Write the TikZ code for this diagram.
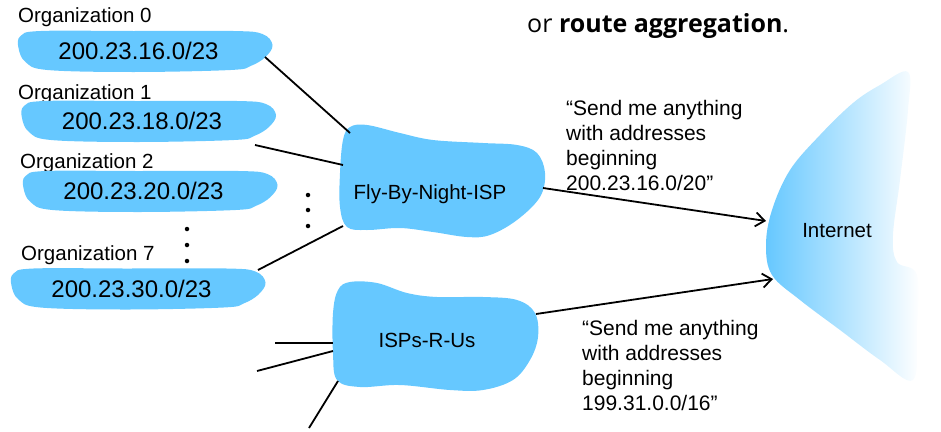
\documentclass[tikz,border=0pt]{standalone}
\usepackage{fontspec}
\setmainfont{Liberation Sans}
\newfontfamily\titlefont{Open Sans}
\usetikzlibrary{arrows.meta}
\definecolor{cloud}{HTML}{66C8FF}
\begin{document}
\begin{tikzpicture}[x=1pt,y=-1pt,
  ip/.style={font=\fontsize{24}{28}\selectfont,inner sep=0pt},
  orglabel/.style={font=\fontsize{20.5}{24}\selectfont,inner sep=0pt,anchor=base west},
  isp/.style={font=\fontsize{20.5}{24}\selectfont,inner sep=0pt,anchor=base},
  quote/.style={font=\fontsize{21}{25}\selectfont,inner sep=0pt,anchor=north west,align=left},
  link/.style={line width=1.8pt},
  adv/.style={line width=1.8pt,-{Straight Barb[length=9pt,width=14pt,line width=1.8pt]}},
  dot/.style={circle,fill=black,inner sep=0pt,minimum size=4.5pt},
  orgblob/.pic={\fill[cloud] plot[smooth cycle,tension=0.6] coordinates {(-118,-15) (-98,-20) (-5,-20) (95,-20) (124,-17) (134,-6) (127,6) (112,15) (92,19) (-5,21) (-91,19) (-113,11) (-120,-3)};}
]
\useasboundingbox (0,0) rectangle (941,431);

% title
\node[inner sep=0pt,anchor=base west,font=\titlefont\fontsize{25}{29}\selectfont] (title) at (527,32) {or \textbf{route aggregation}.};

% organizations
\node[orglabel] (l0) at (18,22) {Organization 0};
\pic at (138.5,51) {orgblob};
\node[ip] (ip0) at (138.5,51) {200.23.16.0/23};

\node[orglabel] (l1) at (18,99) {Organization 1};
\pic at (142,121) {orgblob};
\node[ip] (ip1) at (142,121) {200.23.18.0/23};

\node[orglabel] (l2) at (20,168) {Organization 2};
\pic at (143.5,191) {orgblob};
\node[ip] (ip2) at (143.5,191) {200.23.20.0/23};

\node[orglabel] (l7) at (21,260) {Organization 7};
\pic at (131.5,288.5) {orgblob};
\node[ip] (ip7) at (131.5,288.5) {200.23.30.0/23};

\node[dot] (d1) at (187,229) {};
\node[dot] (d2) at (187,245) {};
\node[dot] (d3) at (187,261) {};

% Fly-By-Night-ISP
\fill[cloud] plot[smooth cycle,tension=0.6] coordinates {(350,127) (367,125) (400,133) (433,140) (483,143) (517,145) (537,153) (545,173) (540,197) (517,220) (490,235) (467,237) (433,232) (400,228) (367,230) (347,227) (340,207) (340,173) (343,140)};
\node[isp] (fly) at (430,199) {Fly-By-Night-ISP};

% ISPs-R-Us
\fill[cloud] plot[smooth cycle,tension=0.6] coordinates {(338,290) (350,282) (377,283) (407,293) (437,297) (483,297) (517,300) (535,313) (538,337) (530,360) (513,380) (483,390) (450,390) (400,385) (360,387) (337,380) (333,353) (333,313)};
\node[isp] (rus) at (427,347) {ISPs-R-Us};

% Internet
\shade[left color=cloud,right color=white] plot[smooth cycle,tension=0.6] coordinates {(908,72) (880,85) (853,103) (820,135) (790,170) (772,210) (766,245) (772,275) (800,300) (840,330) (880,360) (913,380) (917,330) (917,275) (897,262) (893,235) (900,180) (908,110)};
\node[isp] (inet) at (837,237) {Internet};

\node[dot] (e1) at (308,195) {};
\node[dot] (e2) at (308,210) {};
\node[dot] (e3) at (308,226) {};

% connector end points
\coordinate (o0) at (265,57);
\coordinate (f0) at (350,133);
\coordinate (o1) at (255,145);
\coordinate (f1) at (343,165);
\coordinate (o7) at (258,270);
\coordinate (f7) at (343,226);
\coordinate (x1) at (275,343);
\coordinate (r1) at (333,343);
\coordinate (x2) at (257,371);
\coordinate (r2) at (333,351);
\coordinate (x3) at (309,428);
\coordinate (r3) at (338,381);
\coordinate (fo) at (543,188);
\coordinate (it) at (766,221);
\coordinate (ro) at (536,314);
\coordinate (ib) at (773,279);

\draw[link] (o0) -- (f0);
\draw[link] (o1) -- (f1);
\draw[link] (o7) -- (f7);
\draw[link] (x1) -- (r1);
\draw[link] (x2) -- (r2);
\draw[link] (x3) -- (r3);
\draw[adv] (fo) -- (it);
\draw[adv] (ro) -- (ib);

\node[quote] (q1) at (566,100) {“Send me anything\\with addresses\\beginning\\200.23.16.0/20”};
\node[quote] (q2) at (582,320) {“Send me anything\\with addresses\\beginning\\199.31.0.0/16”};
\end{tikzpicture}
\end{document}
